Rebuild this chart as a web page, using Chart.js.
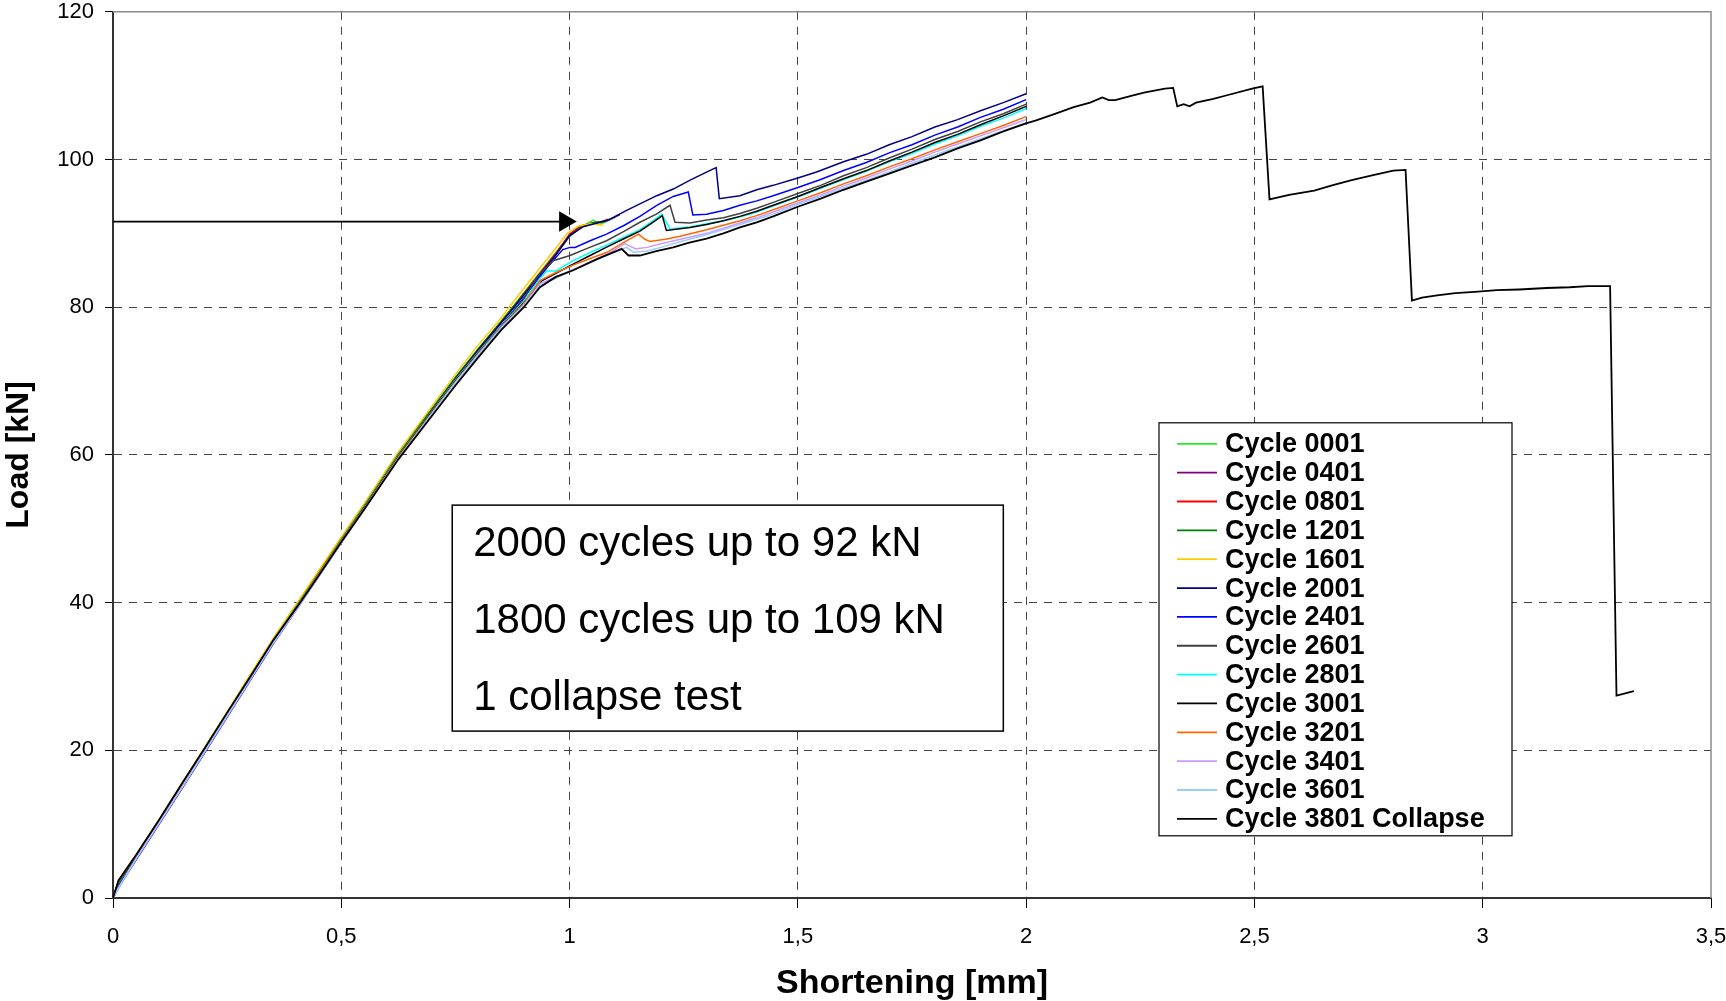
<!DOCTYPE html>
<html>
<head>
<meta charset="utf-8">
<title>Load vs shortening</title>
<script src="https://cdn.jsdelivr.net/npm/chart.js@4.4.1/dist/chart.umd.min.js"></script>
<style>
  html, body { margin: 0; padding: 0; background: #fff; }
  #wrap { position: relative; width: 1726px; height: 1001px; }
</style>
</head>
<body>
<div id="wrap"><canvas id="chart"></canvas></div>
<script>
// Tick labels (comma decimals as in the original)
const xTickLabels = ['0', '0,5', '1', '1,5', '2', '2,5', '3', '3,5'];
const yTickLabels = ['0', '20', '40', '60', '80', '100', '120'];

// Shortening [mm] / load [kN] pairs
const cycle0001 = [[0,0],[0.012,2.0],[0.05,5.6],[0.1,10.4],[0.15,15.2],[0.2,20.1],[0.25,25.0],[0.3,29.9],[0.35,34.8],[0.41,40.3],[0.45,44.0],[0.5,48.6],[0.55,53.1],[0.625,60.1],[0.7,66.3],[0.75,70.5],[0.8,74.4],[0.85,78.1],[0.88,80.4],[0.935,84.7],[0.97,87.4],[1.0,89.7],[1.02,90.9],[1.035,91.2],[1.052,91.8],[1.063,91.2],[1.078,91.5]];
const cycle0401 = [[0,0],[0.015,1.8],[0.05,5.3],[0.1,10.1],[0.15,14.9],[0.2,19.8],[0.25,24.7],[0.3,29.6],[0.35,34.5],[0.41,40.0],[0.45,43.7],[0.5,48.3],[0.55,52.8],[0.625,59.8],[0.7,66.0],[0.75,70.2],[0.8,74.1],[0.85,77.9],[0.88,80.2],[0.935,84.5],[0.97,87.2],[1.0,89.9],[1.025,91.0],[1.05,91.4],[1.075,91.6],[1.095,92.1],[1.11,92.5]];
const cycle0801 = [[0,0],[0.012,2.1],[0.05,5.5],[0.1,10.3],[0.15,15.1],[0.2,20.0],[0.25,24.9],[0.3,29.8],[0.35,34.7],[0.41,40.2],[0.45,43.9],[0.5,48.5],[0.55,53.0],[0.625,60.0],[0.7,66.2],[0.75,70.4],[0.8,74.3],[0.85,78.0],[0.88,80.3],[0.935,84.6],[0.97,87.3],[1.0,89.8],[1.03,91.1],[1.06,91.4],[1.085,91.9]];
const cycle1201 = [[0,0],[0.012,2.2],[0.05,5.6],[0.1,10.4],[0.15,15.3],[0.2,20.2],[0.25,25.1],[0.3,30.0],[0.35,34.9],[0.41,40.4],[0.45,44.1],[0.5,48.7],[0.55,53.2],[0.625,60.2],[0.7,66.4],[0.75,70.5],[0.8,74.3],[0.85,78.0],[0.88,80.3],[0.935,84.4],[0.97,87.1],[1.0,89.6],[1.03,91.0],[1.055,91.5],[1.08,91.6],[1.1,92.2]];
const cycle1601 = [[0,0],[0.012,2.3],[0.05,5.7],[0.1,10.5],[0.15,15.4],[0.2,20.3],[0.25,25.2],[0.3,30.2],[0.35,35.1],[0.41,40.6],[0.45,44.3],[0.5,48.9],[0.55,53.4],[0.625,60.4],[0.7,66.7],[0.75,70.9],[0.8,74.9],[0.85,78.5],[0.87,80.2],[0.93,84.9],[0.965,87.6],[0.995,90.0],[1.02,91.0],[1.045,91.3],[1.074,91.1]];
const cycle2001 = [[0,0],[0.015,1.9],[0.05,5.4],[0.1,10.2],[0.15,15.0],[0.2,19.9],[0.25,24.8],[0.3,29.7],[0.35,34.6],[0.41,40.1],[0.45,43.8],[0.5,48.4],[0.55,52.9],[0.625,59.9],[0.7,66.1],[0.75,70.3],[0.8,74.2],[0.85,77.9],[0.88,80.1],[0.935,84.4],[0.97,87.1],[1.0,89.7],[1.03,90.9],[1.06,91.4],[1.085,91.8],[1.103,92.4],[1.125,93.1],[1.154,94.0],[1.191,95.1],[1.227,96.0],[1.264,97.2],[1.3,98.3],[1.321,98.9],[1.328,94.7],[1.373,95.1],[1.41,95.9],[1.446,96.5],[1.5,97.5],[1.541,98.3],[1.6,99.7],[1.65,100.7],[1.7,102.0],[1.75,103.1],[1.8,104.4],[1.85,105.4],[1.9,106.6],[1.95,107.7],[2.0,108.9]];
const cycle2401 = [[0,0],[0.015,1.7],[0.05,5.1],[0.1,9.9],[0.15,14.7],[0.2,19.6],[0.25,24.5],[0.3,29.4],[0.35,34.3],[0.41,39.8],[0.45,43.5],[0.5,48.1],[0.55,52.6],[0.625,59.6],[0.7,65.8],[0.75,69.9],[0.8,73.8],[0.85,77.4],[0.9,81.3],[0.95,85.3],[0.985,87.8],[1.001,88.1],[1.012,88.1],[1.045,89.0],[1.081,89.9],[1.12,91.1],[1.154,92.3],[1.191,93.8],[1.227,95.0],[1.26,95.6],[1.27,92.5],[1.3,92.6],[1.337,93.1],[1.373,93.8],[1.41,94.4],[1.446,95.1],[1.5,96.2],[1.55,97.3],[1.6,98.5],[1.65,99.6],[1.7,100.9],[1.75,102.0],[1.8,103.3],[1.85,104.4],[1.9,105.7],[1.95,106.8],[2.0,108.1]];
const cycle2601 = [[0,0],[0.012,2.0],[0.05,5.5],[0.1,10.3],[0.15,15.1],[0.2,20.0],[0.25,24.9],[0.3,29.8],[0.35,34.7],[0.41,40.2],[0.45,43.9],[0.5,48.5],[0.55,53.0],[0.625,59.9],[0.7,66.1],[0.75,70.2],[0.8,74.0],[0.85,77.5],[0.9,81.1],[0.93,84.2],[0.964,86.3],[1.001,87.0],[1.04,88.0],[1.081,89.0],[1.12,90.3],[1.154,91.5],[1.19,92.6],[1.22,93.8],[1.231,91.5],[1.264,91.4],[1.3,91.8],[1.337,92.1],[1.373,92.7],[1.41,93.4],[1.446,94.2],[1.5,95.4],[1.55,96.5],[1.6,97.8],[1.65,98.9],[1.7,100.2],[1.75,101.4],[1.8,102.7],[1.85,103.8],[1.9,105.1],[1.95,106.2],[2.0,107.5]];
const cycle2801 = [[0,0],[0.012,2.1],[0.05,5.5],[0.1,10.3],[0.15,15.2],[0.2,20.1],[0.25,25.0],[0.3,29.9],[0.35,34.8],[0.41,40.2],[0.45,43.9],[0.5,48.5],[0.55,53.0],[0.625,59.9],[0.7,66.0],[0.75,70.1],[0.8,73.9],[0.85,77.4],[0.9,80.8],[0.935,83.9],[0.95,84.9],[0.97,84.9],[1.008,86.3],[1.045,87.4],[1.081,88.4],[1.12,89.5],[1.154,90.5],[1.18,91.6],[1.202,92.6],[1.22,90.6],[1.264,90.9],[1.3,91.3],[1.337,91.7],[1.373,92.2],[1.41,92.9],[1.446,93.7],[1.5,94.9],[1.55,96.1],[1.6,97.3],[1.65,98.4],[1.7,99.7],[1.75,100.8],[1.8,102.1],[1.85,103.2],[1.9,104.5],[1.95,105.6],[2.0,106.9]];
const cycle3001 = [[0,0],[0.012,2.2],[0.05,5.5],[0.1,10.3],[0.15,15.1],[0.2,20.0],[0.25,24.9],[0.3,29.8],[0.35,34.7],[0.41,40.1],[0.45,43.8],[0.5,48.4],[0.55,52.9],[0.625,59.8],[0.7,65.9],[0.75,70.0],[0.8,73.8],[0.85,77.3],[0.9,80.6],[0.94,83.6],[0.97,84.6],[1.01,85.9],[1.045,87.0],[1.08,88.1],[1.12,89.3],[1.154,90.3],[1.18,91.4],[1.203,92.4],[1.212,90.4],[1.264,90.8],[1.3,91.2],[1.337,91.7],[1.373,92.3],[1.41,93.0],[1.446,93.8],[1.5,95.0],[1.55,96.2],[1.6,97.4],[1.65,98.5],[1.7,99.8],[1.75,101.0],[1.8,102.3],[1.85,103.4],[1.9,104.7],[1.95,105.9],[2.0,107.2]];
const cycle3201 = [[0,0],[0.012,2.3],[0.05,5.7],[0.1,10.4],[0.15,15.2],[0.2,20.1],[0.25,25.0],[0.3,29.9],[0.35,34.8],[0.41,40.1],[0.45,43.8],[0.5,48.4],[0.55,52.8],[0.625,59.7],[0.7,65.8],[0.75,69.9],[0.8,73.7],[0.85,77.3],[0.9,80.5],[0.935,83.6],[0.97,84.7],[1.008,85.7],[1.045,86.6],[1.081,87.4],[1.12,88.8],[1.151,89.9],[1.165,89.2],[1.176,88.9],[1.21,89.2],[1.242,89.6],[1.3,90.5],[1.337,91.1],[1.373,91.7],[1.41,92.4],[1.446,93.2],[1.5,94.4],[1.55,95.5],[1.6,96.7],[1.65,97.8],[1.7,99.0],[1.75,100.1],[1.8,101.3],[1.85,102.4],[1.9,103.5],[1.95,104.6],[2.0,105.8]];
const cycle3401 = [[0,0],[0.015,1.6],[0.05,5.2],[0.1,10.0],[0.15,14.8],[0.2,19.7],[0.25,24.6],[0.3,29.5],[0.35,34.4],[0.41,39.8],[0.45,43.5],[0.5,48.1],[0.55,52.6],[0.625,59.5],[0.7,65.7],[0.75,69.8],[0.8,73.6],[0.85,77.2],[0.9,80.3],[0.935,83.2],[0.97,84.1],[1.0,84.9],[1.04,86.0],[1.08,87.1],[1.121,88.6],[1.145,87.9],[1.17,88.1],[1.2,88.6],[1.25,89.3],[1.3,90.0],[1.337,90.7],[1.373,91.4],[1.41,92.1],[1.446,92.9],[1.5,94.1],[1.55,95.2],[1.6,96.4],[1.65,97.5],[1.7,98.7],[1.75,99.8],[1.8,101.0],[1.85,102.1],[1.9,103.2],[1.95,104.3],[2.0,105.4]];
const cycle3601 = [[0,0],[0.015,1.7],[0.05,5.3],[0.1,10.1],[0.15,14.9],[0.2,19.8],[0.25,24.7],[0.3,29.6],[0.35,34.5],[0.41,39.9],[0.45,43.5],[0.5,48.1],[0.55,52.6],[0.625,59.5],[0.7,65.6],[0.75,69.7],[0.8,73.5],[0.85,77.1],[0.9,80.2],[0.935,83.0],[0.97,83.9],[1.0,84.8],[1.04,85.9],[1.08,87.0],[1.125,88.1],[1.14,87.45],[1.17,87.6],[1.2,88.1],[1.25,89.0],[1.3,89.8],[1.337,90.5],[1.373,91.2],[1.41,91.9],[1.446,92.6],[1.5,93.9],[1.55,95.0],[1.6,96.1],[1.65,97.2],[1.7,98.3],[1.75,99.5],[1.8,100.6],[1.85,101.7],[1.9,102.8],[1.95,103.9],[2.0,105.0]];
const cycle3801 = [[0,0],[0.012,2.4],[0.05,5.8],[0.1,10.5],[0.15,15.4],[0.2,20.2],[0.25,25.1],[0.3,29.9],[0.35,34.8],[0.41,40.0],[0.45,43.6],[0.5,48.2],[0.55,52.6],[0.625,59.4],[0.7,65.4],[0.75,69.4],[0.8,73.2],[0.85,76.9],[0.9,80.0],[0.935,82.7],[0.97,84.1],[1.008,85.0],[1.06,86.5],[1.114,87.9],[1.129,87.0],[1.154,87.0],[1.19,87.6],[1.227,88.1],[1.26,88.7],[1.3,89.3],[1.337,90.0],[1.373,90.8],[1.41,91.5],[1.446,92.3],[1.5,93.6],[1.55,94.7],[1.6,95.9],[1.65,97.0],[1.7,98.1],[1.75,99.2],[1.8,100.3],[1.85,101.5],[1.9,102.6],[1.95,103.8],[2.0,104.9],[2.022,105.3],[2.06,106.1],[2.104,107.1],[2.14,107.7],[2.167,108.4],[2.181,108.05],[2.195,108.05],[2.23,108.6],[2.258,109.05],[2.304,109.6],[2.322,109.7],[2.331,107.2],[2.345,107.5],[2.358,107.2],[2.372,107.7],[2.41,108.2],[2.44,108.7],[2.495,109.6],[2.518,109.9],[2.533,94.6],[2.576,95.2],[2.631,95.8],[2.67,96.5],[2.713,97.2],[2.76,97.9],[2.804,98.5],[2.831,98.6],[2.845,80.9],[2.867,81.3],[2.9,81.6],[2.94,81.9],[2.99,82.1],[3.031,82.3],[3.08,82.4],[3.14,82.6],[3.19,82.7],[3.231,82.85],[3.279,82.85],[3.293,27.4],[3.331,28.0]];

// Arrow pointing at the 92 kN level
const arrowX = [0, 0.99];
const arrowY = [91.6, 91.6];

const seriesNames = ['Cycle 0001', 'Cycle 0401', 'Cycle 0801', 'Cycle 1201', 'Cycle 1601', 'Cycle 2001', 'Cycle 2401',
  'Cycle 2601', 'Cycle 2801', 'Cycle 3001', 'Cycle 3201', 'Cycle 3401', 'Cycle 3601', 'Cycle 3801 Collapse'];
const seriesData = [cycle0001, cycle0401, cycle0801, cycle1201, cycle1601, cycle2001, cycle2401,
  cycle2601, cycle2801, cycle3001, cycle3201, cycle3401, cycle3601, cycle3801];
const seriesColors = ['#22ee22', '#800080', '#ff0000', '#008000', '#ffcc00', '#000080', '#0000ff',
  '#404040', '#00ffff', '#000000', '#ff6600', '#cc99ff', '#99ccff', '#000000'];

const noteLines = ['2000 cycles up to 92 kN', '1800 cycles up to 109 kN', '1 collapse test'];

const FONT = "'Liberation Sans', Arial, sans-serif";

const datasets = seriesData.map((pts, i) => ({
  label: seriesNames[i],
  data: pts.map(p => ({ x: p[0], y: p[1] })),
  borderColor: seriesColors[i],
  backgroundColor: seriesColors[i],
  borderWidth: i === 13 ? 1.8 : 1.5,
  pointRadius: 0,
  tension: 0,
  order: -i
}));

datasets.push({
  label: '',
  data: arrowX.map((x, i) => ({ x: x, y: arrowY[i] })),
  borderColor: '#000',
  backgroundColor: '#000',
  borderWidth: 1.8,
  pointRadius: [0, 10],
  pointStyle: 'triangle',
  pointRotation: 90,
  pointBackgroundColor: '#000',
  pointBorderColor: '#000',
  order: -100
});

// Gray frame on top and right side of the plot area
const framePlugin = {
  id: 'frame',
  beforeDatasetsDraw(chart) {
    const { ctx, chartArea: a } = chart;
    ctx.save();
    ctx.strokeStyle = '#8c8c8c';
    ctx.lineWidth = 1.5;
    ctx.beginPath();
    ctx.moveTo(a.left, a.top);
    ctx.lineTo(a.right, a.top);
    ctx.lineTo(a.right, a.bottom);
    ctx.stroke();
    ctx.restore();
  }
};

// Text box with the test programme
const notePlugin = {
  id: 'note',
  afterDatasetsDraw(chart) {
    const { ctx, scales } = chart;
    const x0 = scales.x.getPixelForValue(0.743);
    const x1 = scales.x.getPixelForValue(1.95);
    const y0 = scales.y.getPixelForValue(53.2);
    const y1 = scales.y.getPixelForValue(22.6);
    ctx.save();
    ctx.fillStyle = '#fff';
    ctx.fillRect(x0, y0, x1 - x0, y1 - y0);
    ctx.strokeStyle = '#000';
    ctx.lineWidth = 1.5;
    ctx.strokeRect(x0, y0, x1 - x0, y1 - y0);
    ctx.fillStyle = '#000';
    ctx.font = '42px ' + FONT;
    ctx.textBaseline = 'alphabetic';
    noteLines.forEach((t, i) => ctx.fillText(t, x0 + 21, y0 + 51 + i * 77));
    ctx.restore();
  }
};

// Legend drawn inside the plot area
const legendPlugin = {
  id: 'innerLegend',
  afterDatasetsDraw(chart) {
    const { ctx, chartArea: a } = chart;
    const left = a.left + 1046, top = a.top + 411, w = 353, h = 413;
    ctx.save();
    ctx.fillStyle = '#fff';
    ctx.fillRect(left, top, w, h);
    ctx.strokeStyle = '#000';
    ctx.lineWidth = 1.2;
    ctx.strokeRect(left, top, w, h);
    ctx.font = 'bold 27px ' + FONT;
    ctx.textBaseline = 'middle';
    seriesNames.forEach((name, i) => {
      const y = top + 21 + i * 28.85;
      ctx.strokeStyle = seriesColors[i];
      ctx.lineWidth = 1.8;
      ctx.beginPath();
      ctx.moveTo(left + 18, y);
      ctx.lineTo(left + 58, y);
      ctx.stroke();
      ctx.fillStyle = '#000';
      ctx.fillText(name, left + 66, y + 1);
    });
    ctx.restore();
  }
};

const hideEdge = (ctx, max) => (ctx.tick && (ctx.tick.value === 0 || ctx.tick.value === max)) ? 'rgba(0,0,0,0)' : '#444';

new Chart(document.getElementById('chart'), {
  type: 'line',
  data: { datasets: datasets },
  options: {
    responsive: true,
    maintainAspectRatio: false,
    animation: false,
    layout: { padding: { top: 11, right: 15, left: 0, bottom: 0 } },
    plugins: {
      legend: { display: false },
      tooltip: { enabled: false }
    },
    scales: {
      x: {
        type: 'linear',
        min: 0,
        max: 3.5,
        ticks: {
          stepSize: 0.5,
          color: '#000',
          padding: 16,
          maxRotation: 0,
          font: { family: FONT, size: 22 },
          callback: (v, i) => xTickLabels[i]
        },
        grid: {
          color: (c) => hideEdge(c, 3.5),
          lineWidth: 1,
          tickColor: '#000',
          tickLength: 10
        },
        border: { color: '#333', width: 2, dash: [8, 7] },
        title: {
          display: true,
          text: 'Shortening [mm]',
          color: '#000',
          font: { family: FONT, size: 34, weight: 'bold', lineHeight: 1.0 },
          padding: { top: 0, bottom: 0 }
        },
        afterFit: (s) => { s.height = 103; s.paddingRight = 0; s.paddingLeft = 0; }
      },
      y: {
        min: 0,
        max: 120,
        ticks: {
          stepSize: 20,
          color: '#000',
          padding: 11,
          font: { family: FONT, size: 22 },
          callback: (v, i) => yTickLabels[i]
        },
        grid: {
          color: (c) => hideEdge(c, 120),
          lineWidth: 1,
          tickColor: '#000',
          tickLength: 8
        },
        border: { color: '#333', width: 2, dash: [8, 7] },
        title: {
          display: true,
          text: 'Load [kN]',
          color: '#000',
          font: { family: FONT, size: 32, weight: 'bold', lineHeight: 1.2 },
          padding: { top: 0, bottom: 0 }
        },
        afterFit: (s) => { s.width = 113; s.paddingTop = 0; s.paddingBottom = 0; }
      }
    }
  },
  plugins: [framePlugin, notePlugin, legendPlugin]
});
</script>
</body>
</html>
